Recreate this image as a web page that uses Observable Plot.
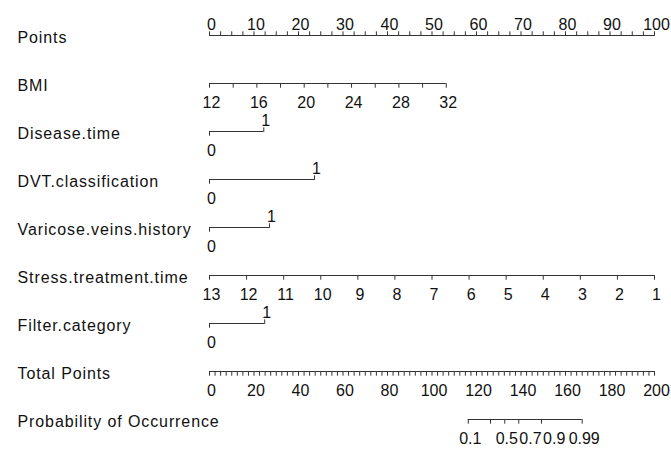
<!DOCTYPE html>
<html><head><meta charset="utf-8">
<script src="https://cdn.jsdelivr.net/npm/d3@7"></script>
<script src="https://cdn.jsdelivr.net/npm/@observablehq/plot@0.6"></script>
<style>
body{margin:0;background:#fff}
g[text-anchor="start"] text{letter-spacing:0.9px}
</style>
</head><body><div id="chart"></div>
<script>
// ---- data ----
const rows = ["Points", "BMI", "Disease.time", "DVT.classification", "Varicose.veins.history",
  "Stress.treatment.time", "Filter.category", "Total Points", "Probability of Occurrence"];
const pointsLabels = [0, 10, 20, 30, 40, 50, 60, 70, 80, 90, 100];
const pointsMinorStep = 2.5;
const bmiTicks = [12, 14, 16, 18, 20, 22, 24, 26, 28, 30, 32];
const bmiLabels = [12, 16, 20, 24, 28, 32];
const bmiMaxPoints = 53.2;           // points at BMI = 32 (BMI 12 -> 0)
const binaryVars = ["Disease.time", "DVT.classification", "Varicose.veins.history", "Filter.category"];
const binaryPoints = [12.2, 23.6, 13.5, 12.4]; // points for level 1 (level 0 -> 0)
const stressValues = [13, 12, 11, 10, 9, 8, 7, 6, 5, 4, 3, 2, 1]; // 13 -> 0 points, 1 -> 100 points
const totalLabels = [0, 20, 40, 60, 80, 100, 120, 140, 160, 180, 200];
const totalMinorStep = 2.5;
const probTicks = [0.1, 0.3, 0.5, 0.7, 0.9, 0.99];
const probTotalPoints = [116.3, 126.3, 132.7, 139.0, 149.2, 167.5];
const probLabels = [0.1, 0.5, 0.7, 0.9, 0.99];

// ---- layout constants ----
const W = 671, H = 450, X0 = 209, X1 = 654, FS = 16;
const pxPerPoint = (X1 - X0) / 100;

// ---- mappings to the Points scale ----
const bmiToPts = v => (v - bmiTicks[0]) / (bmiTicks[bmiTicks.length - 1] - bmiTicks[0]) * bmiMaxPoints;
const stressToPts = v => (stressValues[0] - v) / (stressValues[0] - stressValues[stressValues.length - 1]) * 100;
const totalToPts = v => v / 2;

const lines = [], ticksUp = [], ticksDown = [], labelsAbove = [], labelsBelow = [];

// Points
lines.push({row: "Points", x1: 0, x2: 100});
d3.range(0, 100 + 1e-9, pointsMinorStep).forEach(v => ticksUp.push({row: "Points", x: v}));
pointsLabels.forEach(v => labelsAbove.push({row: "Points", x: v, text: String(v)}));

// BMI
lines.push({row: "BMI", x1: 0, x2: bmiToPts(bmiTicks[bmiTicks.length - 1])});
bmiTicks.forEach(v => ticksDown.push({row: "BMI", x: bmiToPts(v)}));
bmiLabels.forEach(v => labelsBelow.push({row: "BMI", x: bmiToPts(v), text: String(v)}));

// binary variables
binaryVars.forEach((name, i) => {
  const p = binaryPoints[i];
  lines.push({row: name, x1: 0, x2: p});
  ticksDown.push({row: name, x: 0});
  ticksUp.push({row: name, x: p});
  labelsBelow.push({row: name, x: 0, text: "0"});
  labelsAbove.push({row: name, x: p, text: "1"});
});

// Stress.treatment.time
lines.push({row: "Stress.treatment.time", x1: 0, x2: 100});
stressValues.forEach(v => {
  ticksDown.push({row: "Stress.treatment.time", x: stressToPts(v)});
  labelsBelow.push({row: "Stress.treatment.time", x: stressToPts(v), text: String(v)});
});

// Total Points
lines.push({row: "Total Points", x1: 0, x2: totalToPts(200)});
d3.range(0, 200 + 1e-9, totalMinorStep).forEach(v => ticksDown.push({row: "Total Points", x: totalToPts(v)}));
totalLabels.forEach(v => labelsBelow.push({row: "Total Points", x: totalToPts(v), text: String(v)}));

// Probability (labels nudged right so they sit side by side without overlapping)
const pRow = "Probability of Occurrence";
lines.push({row: pRow, x1: totalToPts(probTotalPoints[0]), x2: totalToPts(probTotalPoints[probTotalPoints.length - 1])});
probTicks.forEach((p, i) => ticksDown.push({row: pRow, x: totalToPts(probTotalPoints[i])}));
const textWidth = s => [...s].reduce((w, c) => w + (c === "." ? 0.278 : 0.556) * FS, 0);
let prevEnd = -Infinity;
probLabels.forEach(p => {
  const i = probTicks.indexOf(p);
  const s = String(p), w = textWidth(s);
  let cx = X0 + totalToPts(probTotalPoints[i]) * pxPerPoint;
  if (cx - w / 2 < prevEnd + 1.5) cx = prevEnd + 1.5 + w / 2;
  prevEnd = cx + w / 2;
  labelsBelow.push({row: pRow, x: (cx - X0) / pxPerPoint, text: s});
});

const tickShape = {draw(context, l) { context.moveTo(0, 0); context.lineTo(0, -l); }};
const ink = "#333";
const font = "'Liberation Sans', Arial, Helvetica, sans-serif";

const chart = Plot.plot({
  width: W,
  height: H,
  marginLeft: X0, marginRight: W - X1, marginTop: 32, marginBottom: 28,
  style: {fontFamily: font, background: "#fff", color: "#111"},
  x: {domain: [0, 100], range: [X0, X1], axis: null},
  y: {type: "point", domain: rows, range: [31.7, 422.7], padding: 0, axis: null},
  marks: [
    Plot.ruleY(lines, {y: "row", x1: "x1", x2: "x2", stroke: ink, strokeWidth: 1}),
    Plot.vector(ticksUp, {x: "x", y: "row", length: 3.8, rotate: 0, anchor: "start", shape: tickShape, stroke: ink, strokeWidth: 1}),
    Plot.vector(ticksDown, {x: "x", y: "row", length: 3.8, rotate: 180, anchor: "start", shape: tickShape, stroke: ink, strokeWidth: 1}),
    Plot.text(labelsAbove, {x: "x", y: "row", text: "text", lineAnchor: "bottom", dy: -5.5, dx: 2, fontSize: FS, fill: "#111"}),
    Plot.text(labelsBelow, {x: "x", y: "row", text: "text", lineAnchor: "top", dy: 13, dx: 2, fontSize: FS, fill: "#111"}),
    Plot.text(rows, {y: d => d, text: d => d, frameAnchor: "left", textAnchor: "start", lineAnchor: "bottom", dx: -192, dy: 7.5, fontSize: FS, fill: "#111"})
  ]
});
document.getElementById("chart").append(chart);
</script>
</body></html>
